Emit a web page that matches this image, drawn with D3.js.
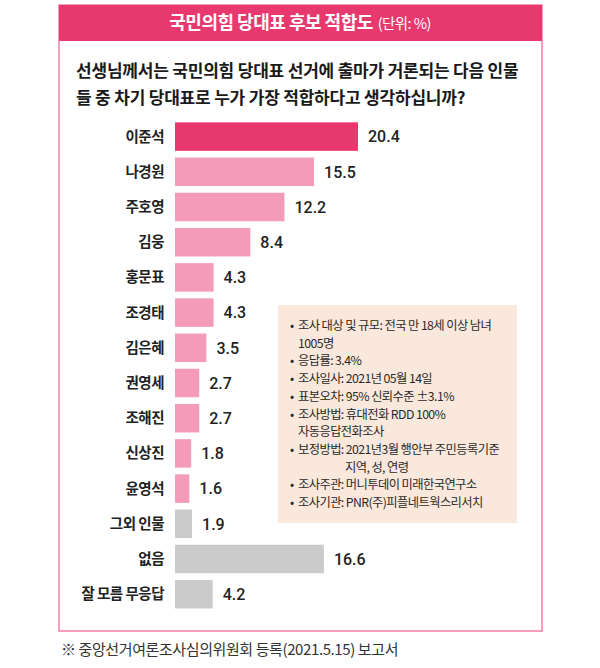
<!DOCTYPE html>
<html>
<head>
<meta charset="utf-8">
<script src="https://cdn.jsdelivr.net/npm/d3@7"></script>
<style>
  html, body { margin: 0; padding: 0; background: #fff; }
  svg { display: block; }
</style>
</head>
<body>
<div id="chart"></div>
<script>
// chart values
const names = ['이준석', '나경원', '주호영', '김웅', '홍문표', '조경태', '김은혜', '권영세', '조해진', '신상진', '윤영석', '그외 인물', '없음', '잘 모름 무응답'];
const values = [20.4, 15.5, 12.2, 8.4, 4.3, 4.3, 3.5, 2.7, 2.7, 1.8, 1.6, 1.9, 16.6, 4.2];
const groups = ['top', 'cand', 'cand', 'cand', 'cand', 'cand', 'cand', 'cand', 'cand', 'cand', 'cand', 'etc', 'etc', 'etc'];

const titleMain = '국민의힘 당대표 후보 적합도';
const titleUnit = '(단위: %)';
const question = ['선생님께서는 국민의힘 당대표 선거에 출마가 거론되는 다음 인물', '들 중 차기 당대표로 누가 가장 적합하다고 생각하십니까?'];
const infoLines = [
    { bullet: true, text: '조사 대상 및 규모: 전국 만 18세 이상 남녀' },
    { bullet: false, text: '1005명' },
    { bullet: true, text: '응답률: 3.4%' },
    { bullet: true, text: '조사일사: 2021년 05월 14일' },
    { bullet: true, text: '표본오차: 95% 신뢰수준 ±3.1%' },
    { bullet: true, text: '조사방법: 휴대전화 RDD 100%' },
    { bullet: false, text: '자동응답전화조사' },
    { bullet: true, text: '보정방법: 2021년3월 행안부 주민등록기준' },
    { bullet: false, text: '지역, 성, 연령', indent: true },
    { bullet: true, text: '조사주관: 머니투데이 미래한국연구소' },
    { bullet: true, text: '조사기관: PNR(주)피플네트웍스리서치' }
];
const footnote = '※ 중앙선거여론조사심의위원회 등록(2021.5.15) 보고서';

const width = 600, height = 668;
const colors = { top: '#e8396f', cand: '#f39bb8', etc: '#cbcbcb' };
const krFont = '"Noto Sans CJK KR", "Noto Sans", sans-serif';

const svg = d3.select('#chart')
    .append('svg')
    .attr('width', width)
    .attr('height', height);

// Frame
const frame = { left: 59, right: 542, top: 5, bottom: 631 };
svg.append('rect')
    .attr('x', frame.left)
    .attr('y', frame.top)
    .attr('width', frame.right - frame.left)
    .attr('height', frame.bottom - frame.top)
    .attr('fill', '#fff')
    .attr('stroke', '#f27fa6')
    .attr('stroke-width', 1.5);

// Header bar
svg.append('rect')
    .attr('x', frame.left)
    .attr('y', frame.top)
    .attr('width', frame.right - frame.left)
    .attr('height', 36)
    .attr('fill', '#e8396f');

const title = svg.append('text')
    .attr('x', 300)
    .attr('y', 29)
    .attr('text-anchor', 'middle')
    .attr('fill', '#fff')
    .style('font-family', krFont);
title.append('tspan')
    .style('font-size', '18px')
    .style('font-weight', 700)
    .style('letter-spacing', '-0.5px')
    .text(titleMain);
title.append('tspan')
    .attr('dx', 5)
    .style('font-size', '14.5px')
    .style('font-weight', 400)
    .style('letter-spacing', '-0.6px')
    .text(titleUnit);

// Question
svg.append('g')
    .selectAll('text')
    .data(question)
    .join('text')
    .attr('x', 76)
    .attr('y', (d, i) => 77 + i * 27)
    .attr('fill', '#1a1a1a')
    .style('font-family', krFont)
    .style('font-size', '17px')
    .style('font-weight', 700)
    .style('letter-spacing', '-0.2px')
    .text(d => d);

// Scales
const x = d3.scaleLinear()
    .domain([0, 20.4])
    .range([175, 358]);

const y = d3.scaleBand()
    .domain(names)
    .range([119, 119 + names.length * 35.2])
    .paddingInner(0.19)
    .paddingOuter(0.095);

// Bars
svg.append('g')
    .selectAll('rect')
    .data(names)
    .join('rect')
    .attr('x', x(0))
    .attr('y', d => y(d))
    .attr('width', (d, i) => x(values[i]) - x(0))
    .attr('height', y.bandwidth())
    .attr('fill', (d, i) => colors[groups[i]]);

// Category labels
svg.append('g')
    .selectAll('text')
    .data(names)
    .join('text')
    .attr('x', 164)
    .attr('y', d => y(d) + y.bandwidth() / 2)
    .attr('dy', '0.35em')
    .attr('text-anchor', 'end')
    .attr('fill', '#222')
    .style('font-family', krFont)
    .style('font-size', '14.5px')
    .style('font-weight', 700)
    .style('letter-spacing', '-0.5px')
    .text(d => d);

// Value labels
svg.append('g')
    .selectAll('text')
    .data(names)
    .join('text')
    .attr('x', (d, i) => x(values[i]) + 10)
    .attr('y', d => y(d) + y.bandwidth() / 2)
    .attr('dy', '0.36em')
    .attr('fill', '#222')
    .style('font-family', 'Roboto, "Liberation Sans", sans-serif')
    .style('font-size', '16px')
    .style('font-weight', 500)
    .text((d, i) => values[i].toFixed(1));

// Info box
const box = { x: 278, y: 305, w: 239, h: 218 };
svg.append('rect')
    .attr('x', box.x)
    .attr('y', box.y)
    .attr('width', box.w)
    .attr('height', box.h)
    .attr('fill', '#fae8dc');

const info = svg.append('g')
    .style('font-family', krFont)
    .style('font-size', '12.3px')
    .attr('fill', '#2a2a2a');

info.selectAll('text.line')
    .data(infoLines)
    .join('text')
    .attr('class', 'line')
    .attr('x', d => d.indent ? 345 : 298)
    .attr('y', (d, i) => 330 + i * 17.7)
    .style('letter-spacing', '-0.6px')
    .text(d => d.text);

info.selectAll('text.bullet')
    .data(infoLines.filter(d => d.bullet))
    .join('text')
    .attr('class', 'bullet')
    .attr('x', 290)
    .attr('y', d => 330 + infoLines.indexOf(d) * 17.7)
    .text('•');

// Footnote
svg.append('text')
    .attr('x', 61)
    .attr('y', 655)
    .attr('fill', '#333')
    .style('font-family', krFont)
    .style('font-size', '15px')
    .style('letter-spacing', '-0.4px')
    .text(footnote);
</script>
</body>
</html>
